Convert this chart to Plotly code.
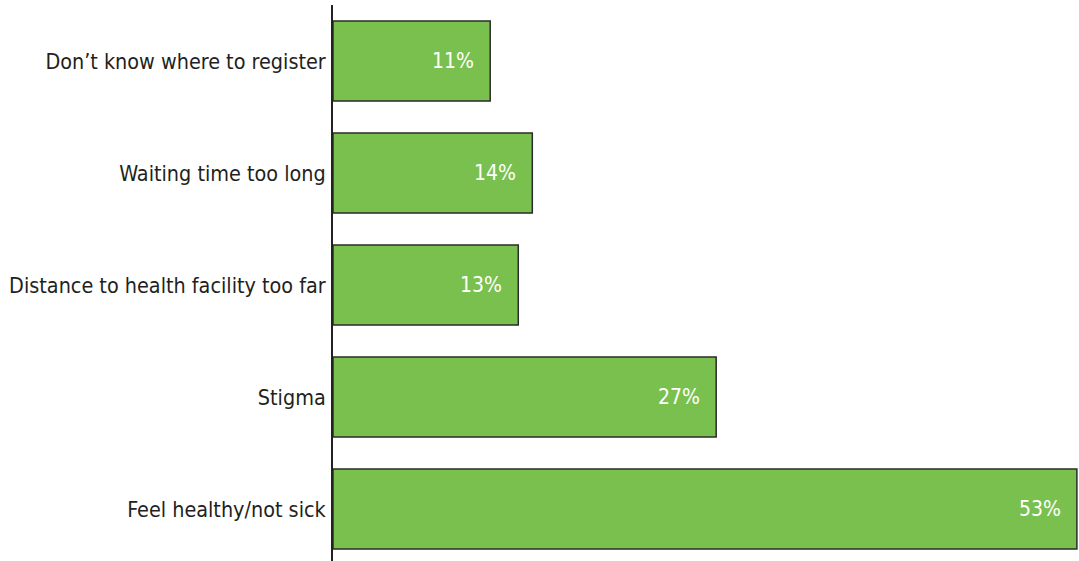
import plotly.graph_objects as go

categories = ["Feel healthy/not sick", "Stigma", "Distance to health facility too far",
              "Waiting time too long", "Don\u2019t know where to register"]
values = [53, 27.3, 13.2, 14.2, 11.2]
labels = ["53%", "27%", "13%", "14%", "11%"]

FONT = "Liberation Sans Narrow, DejaVu Sans Condensed, Arial Narrow, sans-serif"

fig = go.Figure(go.Bar(
    x=values, y=categories, orientation="h",
    marker=dict(color="#7AC04F", line=dict(color="#2b2b2b", width=1.5)),
    hoverinfo="skip",
))

for c, v, t in zip(categories, values, labels):
    fig.add_annotation(x=v, y=c, text=t, showarrow=False, xanchor="right",
                       xshift=-14, font=dict(family=FONT, size=21, color="white"))

fig.update_layout(
    width=1079, height=561,
    margin=dict(l=333, r=0, t=5, b=0),
    paper_bgcolor="white", plot_bgcolor="white",
    bargap=0.286,
    showlegend=False,
    xaxis=dict(range=[0, 53.15], visible=False, fixedrange=True),
    yaxis=dict(range=[-0.464, 4.5], showline=True, linecolor="#222", linewidth=2,
               ticks="", showgrid=False, zeroline=False, ticklabelstandoff=1,
               automargin=False,
               tickfont=dict(family=FONT, size=21.4, color="#231F20")),
)

fig.write_html("out.html")
